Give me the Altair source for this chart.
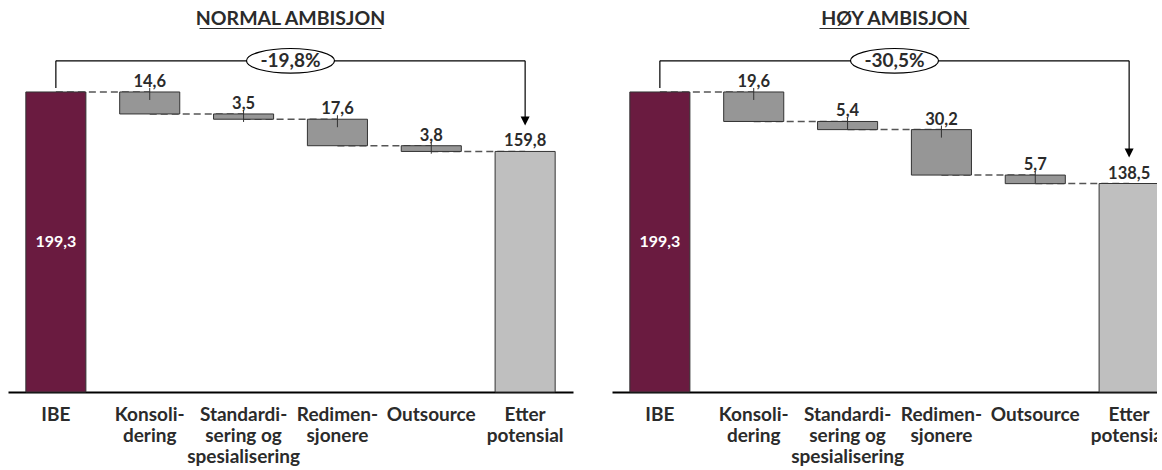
import altair as alt
import pandas as pd

# Category labels ("|" marks a line break on the axis)
categories = [
    "IBE",
    "Konsoli-|dering",
    "Standardi-|sering og|spesialisering",
    "Redimen-|sjonere",
    "Outsource",
    "Etter|potensial",
]

# Normal ambition: starting cost, reductions per lever, result
normal_start = 199.3
normal_steps = [14.6, 3.5, 17.6, 3.8]
normal_end = 159.8
normal_change = "-19,8%"

# High ambition
high_start = 199.3
high_steps = [19.6, 5.4, 30.2, 5.7]
high_end = 138.5
high_change = "-30,5%"

MAROON = "#6A1B40"
DARK_GREY = "#969696"
LIGHT_GREY = "#BFBFBF"
EDGE = "#333333"
TEXT = "#2B2B2B"
FONT = "Lato"

PANEL_W = 565
PANEL_H = 392
Y_MAX = 260.4
BRACKET_LEVEL = 220


def fmt(v):
    return f"{v:.1f}".replace(".", ",")


def waterfall(title, start, steps, end, change, underline_half):
    rows = [dict(cat=categories[0], lo=0.0, hi=start, kind="start",
                 label=fmt(start))]
    level = start
    links = [dict(a=categories[0], b=categories[1], y=start)]
    for i, s in enumerate(steps):
        rows.append(dict(cat=categories[i + 1], lo=level - s, hi=level,
                         kind="step", label=fmt(s)))
        level -= s
        links.append(dict(a=categories[i + 1], b=categories[i + 2], y=level))
    rows.append(dict(cat=categories[-1], lo=0.0, hi=end, kind="end",
                     label=fmt(end)))
    bars = pd.DataFrame(rows)
    links = pd.DataFrame(links)
    links.loc[links.index[-1], "y"] = end

    xscale = alt.Scale(domain=categories, paddingInner=0.36, paddingOuter=0.19)
    x_axis = alt.Axis(title=None, labelAngle=0, ticks=False,
                      labelExpr="split(datum.label, '|')",
                      labelFont=FONT, labelFontWeight="bold",
                      labelFontSize=19, labelLineHeight=21,
                      labelColor=TEXT, labelPadding=13,
                      labelOverlap=False, labelBound=False,
                      labelLimit=0, domainColor="#000000",
                      domainWidth=2, grid=False)

    def xcat(field):
        return alt.X(f"{field}:N", scale=xscale, axis=x_axis)

    yscale = alt.Scale(domain=[0, Y_MAX], nice=False, zero=False)

    def yval(field):
        return alt.Y(f"{field}:Q", scale=yscale, axis=None)

    connectors = alt.Chart(links).mark_rule(
        color="#555555", strokeWidth=1.5, strokeDash=[7, 4]
    ).encode(x=xcat("a"), x2="b:N", y=yval("y"))

    colour = alt.Color(
        "kind:N",
        scale=alt.Scale(domain=["start", "step", "end"],
                        range=[MAROON, DARK_GREY, LIGHT_GREY]),
        legend=None)
    body = alt.Chart(bars).mark_bar(stroke=EDGE, strokeWidth=1).encode(
        x=xcat("cat"), y=yval("hi"), y2="lo:Q", color=colour)

    leaders = alt.Chart(bars).transform_filter(
        "datum.kind == 'step'"
    ).mark_rule(color=EDGE, strokeWidth=1, yOffset=-4, y2Offset=8).encode(
        x=xcat("cat"), y=yval("hi"), y2="hi:Q")

    values = alt.Chart(bars).transform_filter(
        "datum.kind != 'start'"
    ).mark_text(font=FONT, fontWeight="bold", fontSize=16.5, color=TEXT,
                baseline="alphabetic", dy=-5).encode(
        x=xcat("cat"), y=yval("hi"), text="label:N")

    inner = alt.Chart(bars).transform_filter(
        "datum.kind == 'start'"
    ).transform_calculate(mid="datum.hi / 2").mark_text(
        font=FONT, fontWeight="bold", fontSize=16, color="white",
        baseline="middle").encode(
        x=xcat("cat"), y=yval("mid"), text="label:N")

    ends = pd.DataFrame([dict(a=categories[0], b=categories[-1],
                              top=BRACKET_LEVEL, first=start, last=end,
                              change=change)])
    bracket_h = alt.Chart(ends).mark_rule(color="#000000", strokeWidth=1.2).encode(
        x=xcat("a"), x2="b:N", y=yval("top"))
    bracket_l = alt.Chart(ends).mark_rule(
        color="#000000", strokeWidth=1.2, y2Offset=-4).encode(
        x=xcat("a"), y=yval("top"), y2="first:Q")
    bracket_r = alt.Chart(ends).mark_rule(
        color="#000000", strokeWidth=1.2, y2Offset=-31).encode(
        x=xcat("b"), y=yval("top"), y2="last:Q")
    arrow = alt.Chart(ends).mark_point(
        shape="M -1 -1 L 1 -1 L 0 1 Z", size=81, filled=True,
        color="#000000", opacity=1, yOffset=-30.5).encode(
        x=xcat("b"), y=yval("last"))
    oval = alt.Chart(ends).mark_point(
        shape="M -1 0 A 1 0.28 0 1 1 1 0 A 1 0.28 0 1 1 -1 0 Z",
        size=88 * 88, filled=True, fill="white", stroke="#000000",
        strokeWidth=1.2, opacity=1).encode(
        x=alt.value(PANEL_W / 2), y=yval("top"))
    change_txt = alt.Chart(ends).mark_text(
        font=FONT, fontWeight="bold", fontSize=19, color=TEXT,
        baseline="middle").encode(
        x=alt.value(PANEL_W / 2), y=yval("top"), text="change:N")

    head = alt.Chart(pd.DataFrame([dict(t=title)])).mark_text(
        font=FONT, fontWeight="bold", fontSize=19.5, color=TEXT,
        baseline="middle").encode(
        x=alt.value(PANEL_W / 2), y=alt.value(19), text="t:N")
    underline = alt.Chart(pd.DataFrame([dict(t=title)])).mark_rule(
        color=TEXT, strokeWidth=1).encode(
        x=alt.value(PANEL_W / 2 - underline_half),
        x2=alt.value(PANEL_W / 2 + underline_half),
        y=alt.value(28.5))

    return alt.layer(
        connectors, body, leaders, values, inner,
        bracket_h, bracket_l, bracket_r, arrow, oval, change_txt,
        head, underline,
    ).properties(width=PANEL_W, height=PANEL_H)


left = waterfall("NORMAL AMBISJON", normal_start, normal_steps, normal_end,
                 normal_change, 91)
right = waterfall("HØY AMBISJON", high_start, high_steps, high_end,
                  high_change, 75)

chart = alt.hconcat(left, right, spacing=39).properties(
    padding={"left": 8, "top": 0, "right": -20, "bottom": 0}
).configure(font=FONT).configure_view(stroke="transparent", strokeWidth=0)

chart.save("out.html", embed_options={"renderer": "svg", "actions": False})
